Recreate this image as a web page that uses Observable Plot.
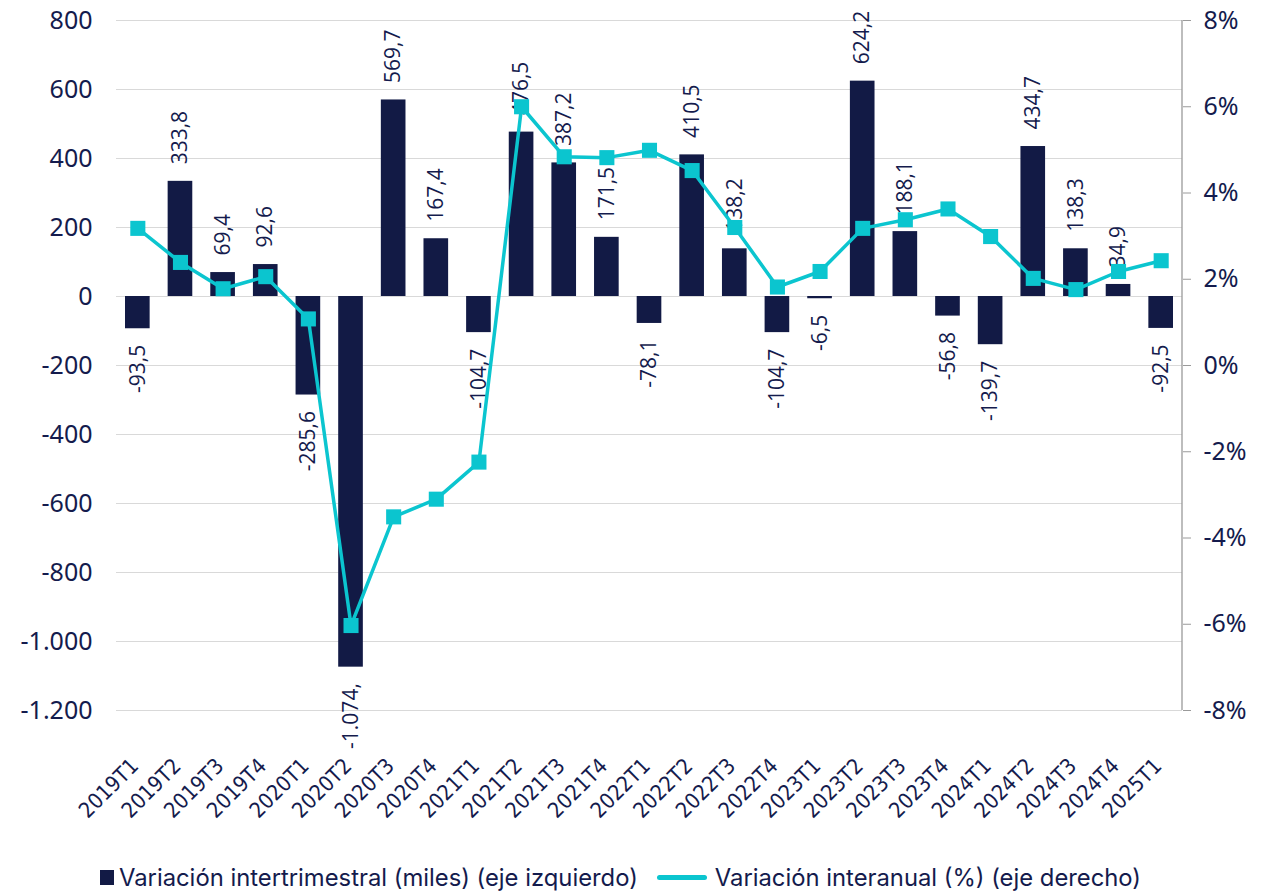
<!DOCTYPE html>
<html><head><meta charset="utf-8">
<script src="https://cdn.jsdelivr.net/npm/d3@7"></script>
<script src="https://cdn.jsdelivr.net/npm/@observablehq/plot@0.6"></script>
<style>
body{margin:0;background:#fff;font-family:Inter, "Noto Sans", sans-serif;}
#chart{position:relative;width:1272px;height:893px;overflow:hidden;}
#chart svg{display:block;}
.legend{position:absolute;left:100px;top:863px;display:flex;align-items:center;font-size:23.8px;color:#141B4D;white-space:nowrap;}
.sw-bar{width:14px;height:15px;background:#121A45;margin-right:5px;}
.sw-line{width:50px;height:5px;border-radius:3px;background:#0BC5CF;margin-left:19px;margin-right:8px;}
</style></head><body><div id="chart"></div>
<script>
const quarters = ["2019T1","2019T2","2019T3","2019T4","2020T1","2020T2","2020T3","2020T4","2021T1","2021T2","2021T3","2021T4","2022T1","2022T2","2022T3","2022T4","2023T1","2023T2","2023T3","2023T4","2024T1","2024T2","2024T3","2024T4","2025T1"];
const quarterlyChange = [-93.5,333.8,69.4,92.6,-285.6,-1074.4,569.7,167.4,-104.7,476.5,387.2,171.5,-78.1,410.5,138.2,-104.7,-6.5,624.2,188.1,-56.8,-139.7,434.7,138.3,34.9,-92.5];
const barLabels = ["-93,5","333,8","69,4","92,6","-285,6","-1.074,","569,7","167,4","-104,7","476,5","387,2","171,5","-78,1","410,5","138,2","-104,7","-6,5","624,2","188,1","-56,8","-139,7","434,7","138,3","34,9","-92,5"];
const annualChangePct = [3.18,2.39,1.78,2.06,1.08,-6.03,-3.51,-3.10,-2.24,6.0,4.84,4.82,4.99,4.52,3.20,1.82,2.18,3.18,3.38,3.63,2.99,2.02,1.76,2.18,2.43];
const leftTicks = [-1200,-1000,-800,-600,-400,-200,0,200,400,600,800];
const rightTicks = [-8,-6,-4,-2,0,2,4,6,8];

const NAVY = "#121A45", CYAN = "#0BC5CF", TEXT = "#141B4D";
// right axis (%) mapped onto left axis units: 8% ↔ 800, -8% ↔ -1200
const toLeft = p => 800 + (p - 8) * 125;
const fromLeft = v => (v - 800) / 125 + 8;

const data = quarters.map((q, i) => ({q, v: quarterlyChange[i], label: barLabels[i], pct: annualChangePct[i]}));
const pos = data.filter(d => d.v >= 0), neg = data.filter(d => d.v < 0);
const esFmt = d3.formatLocale({decimal: ",", thousands: ".", grouping: [3], minus: "-"}).format(",d");
const AXIS_FONT = "'Noto Sans', 'Open Sans', sans-serif";
const LABEL_FONT = "'Open Sans', 'Noto Sans', sans-serif";

const rightLine = (index, scales, values, dimensions) => {
  const x = dimensions.width - dimensions.marginRight;
  return d3.create("svg:line")
    .attr("x1", x).attr("x2", x)
    .attr("y1", scales.y(800)).attr("y2", scales.y(-1200))
    .attr("stroke", "#9a9a9a").attr("stroke-width", 1.3).node();
};

const chart = Plot.plot({
  width: 1272, height: 840,
  marginLeft: 116, marginRight: 90, marginTop: 20, marginBottom: 130,
  style: {fontFamily: AXIS_FONT, color: TEXT, background: "transparent", overflow: "visible"},
  x: {domain: quarters, padding: 0, round: false, label: null},
  y: {domain: [-1200, 800], label: null},
  marks: [
    Plot.gridY(leftTicks, {stroke: "#d9d9d9", strokeOpacity: 1, strokeWidth: 1.2}),
    Plot.axisY(leftTicks, {anchor: "left", tickSize: 0, tickPadding: 24, tickFormat: esFmt, fontSize: 25, fontFamily: AXIS_FONT, label: null}),
    Plot.axisY(rightTicks.map(toLeft), {anchor: "right", tickSize: 8, tickPadding: 13, stroke: "#9a9a9a", tickFormat: v => Math.round(fromLeft(v)) + "%", fontSize: 25, fontFamily: AXIS_FONT, label: null}),
    rightLine,
    Plot.axisX({tickRotate: -45, tickSize: 0, tickPadding: 34, dx: -3, dy: 18, fontSize: 21.5, fontWeight: 500, fontFamily: "'Liberation Sans Narrow', 'DejaVu Sans Condensed', sans-serif", label: null}),
    Plot.barY(data, {x: "q", y: "v", fill: NAVY, insetLeft: 9, insetRight: 9}),
    Plot.text(pos, {x: "q", y: "v", text: "label", rotate: -90, textAnchor: "start", dy: -17, fontSize: 21, fontFamily: LABEL_FONT, fill: TEXT}),
    Plot.text(neg, {x: "q", y: "v", text: "label", rotate: -90, textAnchor: "end", dy: 16, fontSize: 21, fontFamily: LABEL_FONT, fill: TEXT}),
    Plot.line(data, {x: "q", y: d => toLeft(d.pct), stroke: CYAN, strokeWidth: 3.5}),
    Plot.dot(data, {x: "q", y: d => toLeft(d.pct), symbol: "square", r: 8.5, fill: CYAN, stroke: "none"})
  ]
});

const root = document.getElementById("chart");
root.appendChild(chart);
const legend = document.createElement("div");
legend.className = "legend";
legend.innerHTML = '<span class="sw-bar"></span><span>Variación intertrimestral (miles) (eje izquierdo)</span><span class="sw-line"></span><span>Variación interanual (%) (eje derecho)</span>';
root.appendChild(legend);
</script>
</body></html>
